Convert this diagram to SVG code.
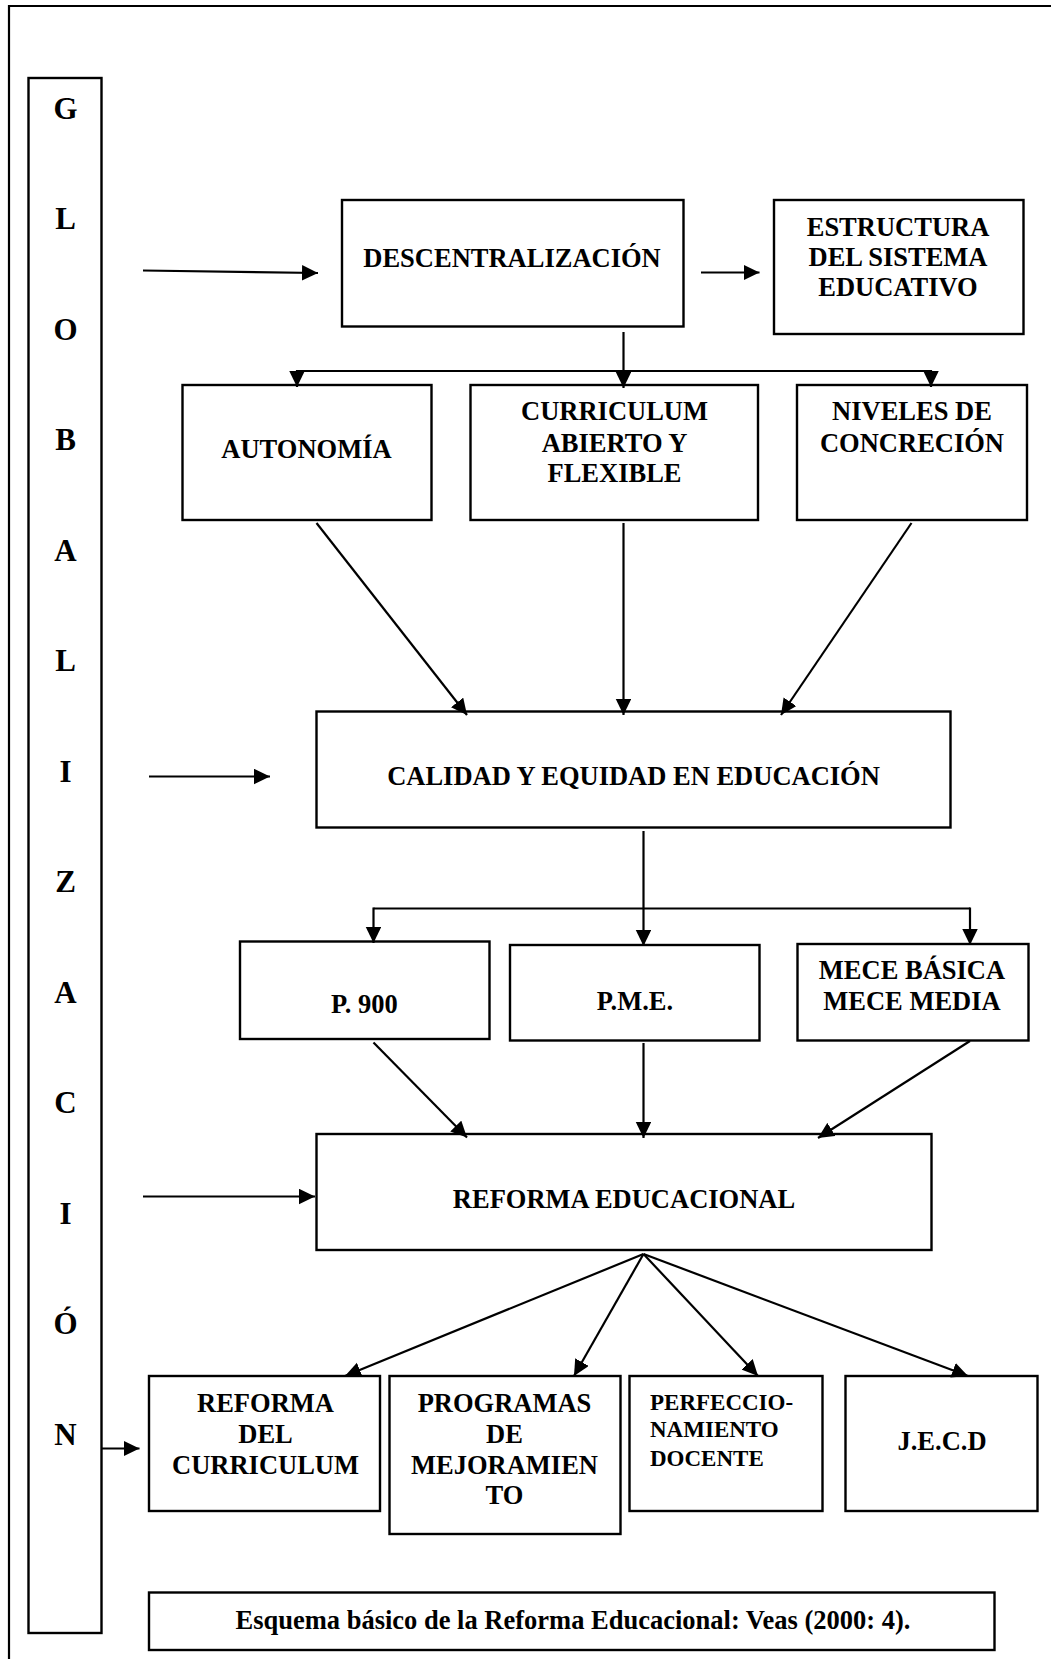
<svg xmlns="http://www.w3.org/2000/svg" width="1051" height="1659" viewBox="0 0 1051 1659">
  <style>
    .box { fill: #fff; stroke: #000; stroke-width: 2.4; }
    .lbl { font-family: "Liberation Serif", "Times New Roman", serif; font-weight: bold; font-size: 26.5px; fill: #000; text-anchor: middle; }
    .small { font-size: 23px; text-anchor: start; }
    .glob { font-size: 31px; }
    .ln { fill: none; stroke: #000; stroke-width: 2.2; }
    .arr { marker-end: url(#head); }
  </style>
  <defs>
    <marker id="head" markerUnits="userSpaceOnUse" markerWidth="17" markerHeight="16" refX="16" refY="7.75" orient="auto">
      <path d="M0,0 L16,7.75 L0,15.5 Z" fill="#000"/>
    </marker>
  </defs>
  <rect width="1051" height="1659" fill="#fff"/>

  <!-- page frame -->
  <path d="M9,1659 V6 H1051" class="ln" stroke-width="2.5"/>

  <!-- vertical side band -->
  <g id="globalizacion">
    <rect class="box" x="28.5" y="78" width="73" height="1555"/>
    <text class="lbl glob" x="65.5" y="118.5">G</text>
    <text class="lbl glob" x="65.5" y="229">L</text>
    <text class="lbl glob" x="65.5" y="339.5">O</text>
    <text class="lbl glob" x="65.5" y="450">B</text>
    <text class="lbl glob" x="65.5" y="560.5">A</text>
    <text class="lbl glob" x="65.5" y="671">L</text>
    <text class="lbl glob" x="65.5" y="781.5">I</text>
    <text class="lbl glob" x="65.5" y="892">Z</text>
    <text class="lbl glob" x="65.5" y="1002.5">A</text>
    <text class="lbl glob" x="65.5" y="1113">C</text>
    <text class="lbl glob" x="65.5" y="1223.5">I</text>
    <text class="lbl glob" x="65.5" y="1334">Ó</text>
    <text class="lbl glob" x="65.5" y="1445">N</text>
  </g>

  <g id="descentralizacion">
    <rect class="box" x="342" y="200" width="341.5" height="126.5"/>
    <text class="lbl" x="512" y="266.5">DESCENTRALIZACIÓN</text>
  </g>
  <g id="estructura">
    <rect class="box" x="774" y="200" width="249.5" height="134"/>
    <text class="lbl" x="898" y="235.5">ESTRUCTURA</text>
    <text class="lbl" x="898" y="265.5">DEL SISTEMA</text>
    <text class="lbl" x="898" y="296">EDUCATIVO</text>
  </g>
  <g id="autonomia">
    <rect class="box" x="182.5" y="385" width="249" height="135"/>
    <text class="lbl" x="306.5" y="457.5">AUTONOMÍA</text>
  </g>
  <g id="curriculum">
    <rect class="box" x="470.5" y="385" width="287.5" height="135"/>
    <text class="lbl" x="614.5" y="420">CURRICULUM</text>
    <text class="lbl" x="614.5" y="451.5">ABIERTO Y</text>
    <text class="lbl" x="614.5" y="482">FLEXIBLE</text>
  </g>
  <g id="niveles">
    <rect class="box" x="797" y="385" width="230" height="135"/>
    <text class="lbl" x="912" y="420">NIVELES DE</text>
    <text class="lbl" x="912" y="451.5">CONCRECIÓN</text>
  </g>
  <g id="calidad">
    <rect class="box" x="316.5" y="711.5" width="634" height="116"/>
    <text class="lbl" x="633.5" y="785">CALIDAD Y EQUIDAD EN EDUCACIÓN</text>
  </g>
  <g id="p900">
    <rect class="box" x="240" y="941.5" width="249.5" height="97.5"/>
    <text class="lbl" x="364.5" y="1013">P. 900</text>
  </g>
  <g id="pme">
    <rect class="box" x="510" y="945" width="249.5" height="95.5"/>
    <text class="lbl" x="635" y="1010">P.M.E.</text>
  </g>
  <g id="mece">
    <rect class="box" x="797.5" y="944" width="231" height="96.5"/>
    <text class="lbl" x="912" y="978.5">MECE BÁSICA</text>
    <text class="lbl" x="912" y="1010">MECE MEDIA</text>
  </g>
  <g id="reforma-educacional">
    <rect class="box" x="316.5" y="1134" width="615" height="116"/>
    <text class="lbl" x="624" y="1207.5">REFORMA EDUCACIONAL</text>
  </g>
  <g id="reforma-curriculum">
    <rect class="box" x="149" y="1376" width="231" height="135"/>
    <text class="lbl" x="265.5" y="1411.5">REFORMA</text>
    <text class="lbl" x="265.5" y="1443">DEL</text>
    <text class="lbl" x="265.5" y="1473.5">CURRICULUM</text>
  </g>
  <g id="programas">
    <rect class="box" x="389.5" y="1376" width="231" height="158"/>
    <text class="lbl" x="504.5" y="1411.5">PROGRAMAS</text>
    <text class="lbl" x="504.5" y="1442.5">DE</text>
    <text class="lbl" x="504.5" y="1473.5">MEJORAMIEN</text>
    <text class="lbl" x="504.5" y="1504">TO</text>
  </g>
  <g id="perfeccionamiento">
    <rect class="box" x="629.5" y="1376" width="193" height="135"/>
    <text class="lbl small" x="650" y="1410">PERFECCIO-</text>
    <text class="lbl small" x="650" y="1437">NAMIENTO</text>
    <text class="lbl small" x="650" y="1465.5">DOCENTE</text>
  </g>
  <g id="jecd">
    <rect class="box" x="845.5" y="1376" width="192" height="135"/>
    <text class="lbl" x="942" y="1449.5">J.E.C.D</text>
  </g>
  <g id="caption">
    <rect class="box" x="149" y="1592.5" width="845.5" height="57.5"/>
    <text class="lbl" x="573" y="1628.5">Esquema básico de la Reforma Educacional: Veas (2000: 4).</text>
  </g>

  <g id="connectors">
    <!-- inputs from the side band -->
    <line class="ln arr" x1="143" y1="270.5" x2="318" y2="273"/>
    <line class="ln arr" x1="149" y1="776.5" x2="270" y2="776.5"/>
    <line class="ln arr" x1="143" y1="1196.5" x2="315" y2="1196.5"/>
    <line class="ln arr" x1="102" y1="1448.5" x2="139.5" y2="1448.5"/>

    <!-- descentralizacion -->
    <line class="ln arr" x1="701" y1="272.5" x2="759.5" y2="272.5"/>
    <line class="ln arr" x1="623.5" y1="332" x2="623.5" y2="388"/>
    <line class="ln" x1="297" y1="371" x2="931" y2="371"/>
    <line class="ln arr" x1="297" y1="370" x2="297" y2="387"/>
    <line class="ln arr" x1="931" y1="370" x2="931" y2="387"/>

    <!-- second row to calidad -->
    <line class="ln arr" x1="316.5" y1="523" x2="467" y2="715"/>
    <line class="ln arr" x1="623.5" y1="523" x2="623.5" y2="715"/>
    <line class="ln arr" x1="911.5" y1="523" x2="781" y2="715"/>

    <!-- calidad branches -->
    <line class="ln arr" x1="643.5" y1="831" x2="643.5" y2="946"/>
    <line class="ln" x1="373.5" y1="908.5" x2="970" y2="908.5"/>
    <line class="ln arr" x1="373.5" y1="907.5" x2="373.5" y2="943"/>
    <line class="ln arr" x1="970" y1="907.5" x2="970" y2="945"/>

    <!-- programmes to reforma -->
    <line class="ln arr" x1="373.5" y1="1042.5" x2="467" y2="1137.5"/>
    <line class="ln arr" x1="643.5" y1="1043" x2="643.5" y2="1138"/>
    <line class="ln arr" x1="970" y1="1041" x2="818" y2="1138"/>

    <!-- reforma fan-out -->
    <line class="ln arr" x1="643.5" y1="1254" x2="345" y2="1376"/>
    <line class="ln arr" x1="643.5" y1="1254" x2="574" y2="1376"/>
    <line class="ln arr" x1="643.5" y1="1254" x2="758" y2="1376"/>
    <line class="ln arr" x1="643.5" y1="1254" x2="968" y2="1376"/>
  </g>
</svg>
